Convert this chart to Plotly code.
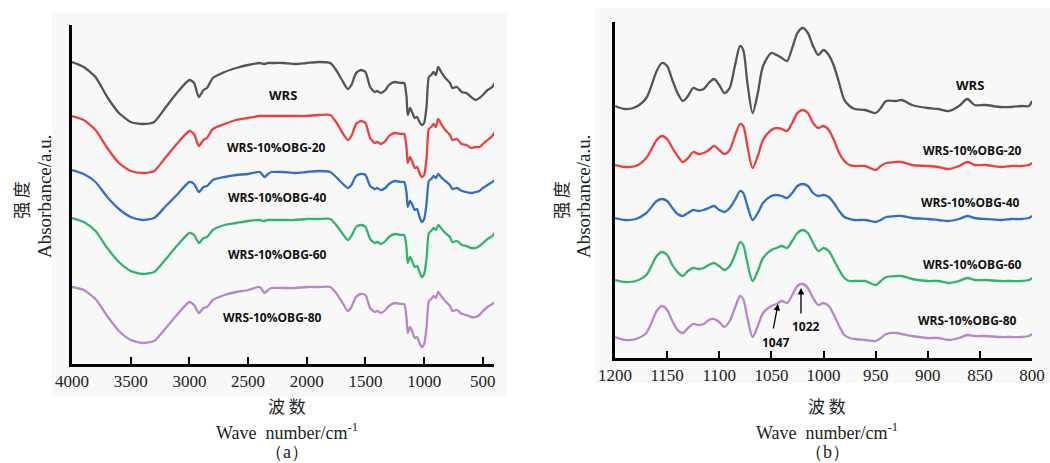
import plotly.graph_objects as go

# ---------------- Panel (a): full spectra ----------------
wn_a = [4000, 3900, 3800, 3700, 3600, 3500, 3400, 3300, 3200, 3100, 3000, 2960, 2920, 2880, 2850, 2800,
        2700, 2600, 2500, 2400, 2360, 2330, 2300, 2200, 2100, 2000, 1900, 1800, 1750, 1700, 1650, 1620,
        1580, 1540, 1500, 1460, 1420, 1400, 1370, 1330, 1300, 1250, 1200, 1170, 1150, 1140, 1120, 1100,
        1080, 1060, 1040, 1020, 1000, 980, 960, 940, 920, 900, 880, 850, 820, 780, 760, 720, 680, 640,
        600, 560, 530, 500, 460, 420, 400]

a_wrs = [302, 297, 287, 267, 251, 242, 240, 242, 257, 272, 284, 281, 267, 274, 276, 286,
         292, 296, 299, 301, 300, 301, 301, 301, 300, 301, 302, 301, 294, 284, 275, 279,
         291, 294, 292, 277, 272, 273, 271, 274, 279, 282, 281, 281, 267, 249, 256, 251,
         246, 247, 242, 239, 241, 257, 287, 289, 292, 289, 297, 291, 286, 281, 276, 277, 272, 271,
         267, 264, 266, 269, 274, 277, 281]
a_20 = [248, 244, 234, 216, 201, 193, 191, 193, 207, 221, 233, 230, 218, 224, 226, 235,
        240, 244, 246, 248, 248, 248, 248, 248, 248, 248, 249, 249, 242, 232, 224, 228,
        240, 243, 241, 226, 221, 222, 220, 223, 228, 231, 230, 230, 216, 201, 207, 202,
        196, 197, 191, 187, 189, 205, 235, 237, 240, 237, 245, 239, 234, 229, 224, 225, 220, 219,
        216, 217, 217, 220, 224, 228, 232]
a_40 = [194, 190, 182, 167, 155, 147, 144, 146, 158, 170, 182, 180, 172, 177, 178, 184,
        187, 189, 190, 192, 187, 190, 192, 192, 191, 192, 193, 192, 187, 181, 176, 179,
        188, 190, 189, 178, 175, 176, 174, 176, 180, 183, 182, 182, 171, 157, 163, 159,
        154, 155, 147, 142, 145, 160, 183, 185, 188, 186, 190, 186, 183, 179, 175, 176, 173, 172,
        171, 172, 173, 176, 179, 182, 184]
a_60 = [146, 142, 133, 116, 102, 93, 90, 92, 105, 119, 131, 129, 121, 126, 127, 134,
        139, 141, 143, 144, 143, 144, 144, 144, 144, 145, 145, 145, 139, 131, 124, 128,
        137, 139, 137, 125, 121, 122, 120, 123, 127, 130, 129, 129, 116, 101, 107, 102,
        97, 98, 92, 87, 90, 105, 131, 133, 136, 134, 139, 135, 131, 127, 122, 123, 119, 118,
        116, 116, 118, 121, 125, 128, 131]
a_80 = [77, 74, 65, 48, 33, 24, 21, 23, 36, 50, 62, 59, 51, 56, 57, 64,
        69, 72, 74, 77, 71, 74, 76, 76, 76, 77, 77, 77, 71, 62, 53, 57,
        67, 70, 69, 56, 52, 53, 51, 54, 58, 61, 60, 60, 46, 31, 37, 32,
        26, 27, 21, 17, 20, 36, 63, 65, 68, 66, 72, 67, 63, 58, 53, 54, 50, 49,
        47, 47, 49, 53, 57, 60, 62]

# ---------------- Panel (b): 1200-800 region ----------------
wn_b = [1200, 1190, 1180, 1170, 1160, 1155, 1150, 1145, 1140, 1135, 1130, 1125, 1120, 1115, 1110, 1105,
        1100, 1095, 1090, 1085, 1080, 1077, 1073, 1068, 1063, 1058, 1050, 1045, 1040, 1035, 1030, 1025,
        1020, 1015, 1010, 1005, 1000, 995, 990, 985, 980, 975, 970, 960, 950, 945, 940, 930, 925, 915,
        900, 890, 880, 870, 862, 855, 845, 830, 820, 810, 803, 800]

b_wrs = [252, 249, 251, 260, 287, 295, 292, 278, 265, 257, 262, 270, 268, 269, 275, 279,
         273, 265, 270, 292, 312, 308, 275, 245, 265, 292, 305, 303, 300, 297, 310, 325,
         330, 325, 312, 303, 308, 303, 292, 275, 258, 252, 249, 248, 245, 250, 257, 257, 258, 253,
         250, 249, 247, 252, 259, 253, 253, 251, 251, 252, 252, 257]
b_20 = [193, 191, 192, 200, 218, 222, 219, 210, 202, 196, 200, 206, 204, 205, 208, 212,
        208, 204, 208, 222, 234, 232, 212, 190, 202, 218, 228, 230, 229, 227, 235, 245,
        248, 245, 235, 230, 232, 228, 218, 205, 197, 193, 192, 192, 188, 192, 195, 196, 196, 193,
        192, 191, 189, 192, 196, 193, 193, 191, 192, 192, 193, 195]
b_40 = [140, 138, 139, 145, 157, 159, 157, 150, 144, 142, 145, 148, 147, 148, 150, 152,
        148, 146, 150, 158, 167, 165, 152, 138, 145, 155, 162, 163, 162, 160, 165, 172,
        174, 172, 165, 162, 163, 161, 155, 147, 141, 139, 138, 138, 136, 138, 141, 142, 142, 140,
        139, 138, 137, 139, 142, 140, 139, 138, 139, 139, 140, 142]
b_60 = [78, 76, 77, 83, 102, 106, 103, 93, 86, 82, 87, 90, 89, 90, 93, 95,
        92, 88, 92, 103, 116, 113, 95, 77, 87, 100, 108, 110, 112, 110, 117, 125,
        128, 125, 115, 107, 110, 107, 98, 88, 80, 77, 77, 77, 73, 77, 81, 82, 82, 79,
        77, 77, 75, 77, 80, 78, 78, 77, 77, 77, 78, 80]
b_80 = [21, 18, 19, 25, 47, 52, 48, 37, 28, 25, 30, 34, 33, 34, 38, 39,
        36, 31, 37, 50, 62, 59, 40, 21, 32, 45, 52, 54, 57, 55, 63, 72,
        74, 70, 60, 53, 55, 52, 43, 32, 23, 20, 19, 18, 17, 20, 24, 25, 24, 22,
        20, 20, 18, 20, 23, 22, 22, 21, 21, 21, 22, 24]

names = ["WRS", "WRS-10%OBG-20", "WRS-10%OBG-40", "WRS-10%OBG-60", "WRS-10%OBG-80"]
colors = ["#555555", "#ec4040", "#3170c2", "#33b36e", "#b986ca"]

# label anchor positions (data units)
lab_a_x = [2203, 2254, 2246, 2246, 2288]
lab_a_y = [269, 217, 167, 110, 47]
lab_b_x = [859, 857, 859, 857, 862]
lab_b_y = [273, 207, 155, 94, 38]

xticks_a = [4000, 3500, 3000, 2500, 2000, 1500, 1000, 500]
xticks_b = [1200, 1150, 1100, 1050, 1000, 950, 900, 850, 800]

fig = go.Figure()
for s, c in zip([a_wrs, a_20, a_40, a_60, a_80], colors):
    fig.add_trace(go.Scatter(x=wn_a, y=s, mode="lines", line=dict(color=c, width=2.3, shape="spline", smoothing=0.6),
                             xaxis="x", yaxis="y", showlegend=False, hoverinfo="skip"))
for s, c in zip([b_wrs, b_20, b_40, b_60, b_80], colors):
    fig.add_trace(go.Scatter(x=wn_b, y=s, mode="lines", line=dict(color=c, width=2.3, shape="spline", smoothing=0.8),
                             xaxis="x2", yaxis="y2", showlegend=False, hoverinfo="skip"))

W, H = 1050, 463
def px(x): return x / W
def py(y): return (H - y) / H

tickfont = dict(family="Liberation Serif", size=17, color="#222222")
common_x = dict(showline=True, linecolor="black", linewidth=2.5, ticks="inside", ticklen=7, tickwidth=2,
                tickcolor="black", showgrid=False, zeroline=False, tickfont=tickfont, mirror=False,
                automargin=False)
common_y = dict(showline=True, linecolor="black", linewidth=2.5, ticks="", showticklabels=False,
                showgrid=False, zeroline=False, automargin=False)

fig.update_layout(
    width=W, height=H, margin=dict(l=0, r=0, t=0, b=0, pad=0, autoexpand=False),
    paper_bgcolor="white", plot_bgcolor="rgba(0,0,0,0)",
    xaxis=dict(domain=[px(72), px(494)], range=[4000, 405], tickvals=xticks_a, anchor="y", **common_x),
    yaxis=dict(domain=[py(364), py(25)], range=[0, 339], anchor="x", **common_y),
    xaxis2=dict(domain=[px(615), px(1032)], range=[1200, 800], tickvals=xticks_b, anchor="y2", **common_x),
    yaxis2=dict(domain=[py(358), py(22)], range=[0, 336], anchor="x2", **common_y),
)

# light grey panel backgrounds
fig.add_shape(type="rect", xref="paper", yref="paper", x0=px(52), x1=px(507), y0=py(397), y1=py(13),
              fillcolor="#f8f8f8", line=dict(width=0), layer="below")
fig.add_shape(type="rect", xref="paper", yref="paper", x0=px(595), x1=px(1050), y0=py(383), y1=py(8),
              fillcolor="#f8f8f8", line=dict(width=0), layer="below")

labfont = dict(family="Open Sans", size=12, color="#111111")
def ann(**kw):
    kw.setdefault("showarrow", False)
    kw.setdefault("xanchor", "center")
    kw.setdefault("yanchor", "middle")
    fig.add_annotation(**kw)

for i, n in enumerate(names):
    f = dict(labfont, size=13) if i == 0 else labfont
    ann(x=lab_a_x[i], y=lab_a_y[i], xref="x", yref="y", text="<b>%s</b>" % n, font=f)
    ann(x=lab_b_x[i], y=lab_b_y[i], xref="x2", yref="y2", text="<b>%s</b>" % n, font=f)

# peak markers in panel (b)
fig.add_annotation(x=1021.6, y=70, ax=1021.6, ay=43, xref="x2", yref="y2", axref="x2", ayref="y2",
                   text="", showarrow=True, arrowhead=2, arrowsize=1, arrowwidth=1.3, arrowcolor="black")
fig.add_annotation(x=1043.6, y=54, ax=1048.4, ay=28, xref="x2", yref="y2", axref="x2", ayref="y2",
                   text="", showarrow=True, arrowhead=2, arrowsize=1, arrowwidth=1.3, arrowcolor="black")
ann(x=1016.8, y=32, xref="x2", yref="y2", text="<b>1022</b>", font=labfont)
ann(x=1045.6, y=16, xref="x2", yref="y2", text="<b>1047</b>", font=labfont)

# axis titles
cjk = dict(family="Noto Sans CJK SC", size=17, color="#222222")
serif = dict(family="Liberation Serif", size=18, color="#222222")
for cx, tag in [(287, "（a）"), (827, "（b）")]:
    ann(x=px(cx), y=py(405), xref="paper", yref="paper", text="波 数", font=cjk)
    ann(x=px(cx), y=py(431), xref="paper", yref="paper", text="Wave  number/cm<sup>-1</sup>", font=serif)
    ann(x=px(cx), y=py(452), xref="paper", yref="paper", text=tag, font=serif)
for cxa, cxb in [(20, 45), (560, 584)]:
    ann(x=px(cxa), y=py(200), xref="paper", yref="paper", text="强 度", textangle=-90, font=cjk)
    ann(x=px(cxb), y=py(197), xref="paper", yref="paper", text="Absorbance/a.u.", textangle=-90,
        font=dict(serif, size=19))

fig.write_html("out.html")
